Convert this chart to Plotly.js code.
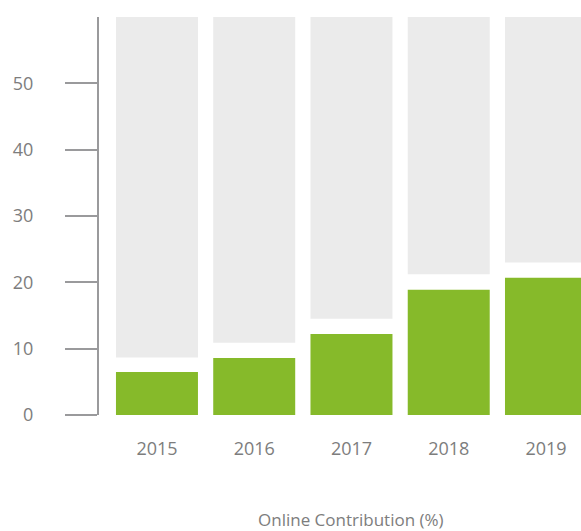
<!DOCTYPE html>
<html>
<head>
<meta charset="utf-8">
<script src="https://cdn.plot.ly/plotly-3.0.1.min.js"></script>
<style>
  html, body { margin: 0; padding: 0; background: #fff; }
  #chart { width: 581px; height: 531px; }
</style>
</head>
<body>
<div id="chart"></div>
<script>
// ===== Dados =====
const anos = ["2015", "2016", "2017", "2018", "2019"];
const online = [6.5, 8.6, 12.2, 18.9, 20.7];       // barras verdes
const fundoBase = [8.65, 10.9, 14.5, 21.2, 23.0];  // início das barras cinzas
const fundoTopo = [60, 60, 60, 60, 60];            // topo das barras cinzas
const yTicks = [0, 10, 20, 30, 40, 50];

const corTexto = "#7d7d7d";
const fonte = "'Open Sans', 'Noto Sans', sans-serif";

const data = [
  {
    x: anos,
    y: fundoTopo.map((t, i) => t - fundoBase[i]),
    base: fundoBase,
    type: "bar",
    marker: { color: "#ebebeb" },
    hoverinfo: "skip"
  },
  {
    x: anos,
    y: online,
    type: "bar",
    marker: { color: "#86ba2a" },
    name: "Online"
  }
];

const layout = {
  width: 581,
  height: 531,
  margin: { t: 17, r: 0, b: 116, l: 99 },
  paper_bgcolor: "#fff",
  plot_bgcolor: "#fff",
  showlegend: false,
  barmode: "overlay",
  bargap: 0.157,
  font: { family: fonte, color: corTexto, size: 18 },
  xaxis: {
    type: "category",
    range: [-0.596, 4.36],
    showline: false,
    showgrid: false,
    zeroline: false,
    ticks: "",
    ticklabelstandoff: 21,
    tickfont: { size: 18, color: corTexto }
  },
  yaxis: {
    range: [0, 60],
    tickvals: yTicks,
    showline: true,
    linecolor: "#9a9a9c",
    linewidth: 2,
    showgrid: false,
    zeroline: false,
    ticks: "outside",
    ticklen: 32,
    tickwidth: 2,
    tickcolor: "#9a9a9c",
    ticklabelstandoff: 28,
    tickfont: { size: 18, color: corTexto }
  },
  annotations: [
    {
      text: "Online Contribution (%)",
      xref: "paper", yref: "paper",
      x: 0.523, y: -0.262,
      xanchor: "center", yanchor: "middle",
      showarrow: false,
      font: { size: 17, color: corTexto }
    }
  ]
};

Plotly.newPlot("chart", data, layout, { displayModeBar: false, staticPlot: true });
</script>
</body>
</html>
